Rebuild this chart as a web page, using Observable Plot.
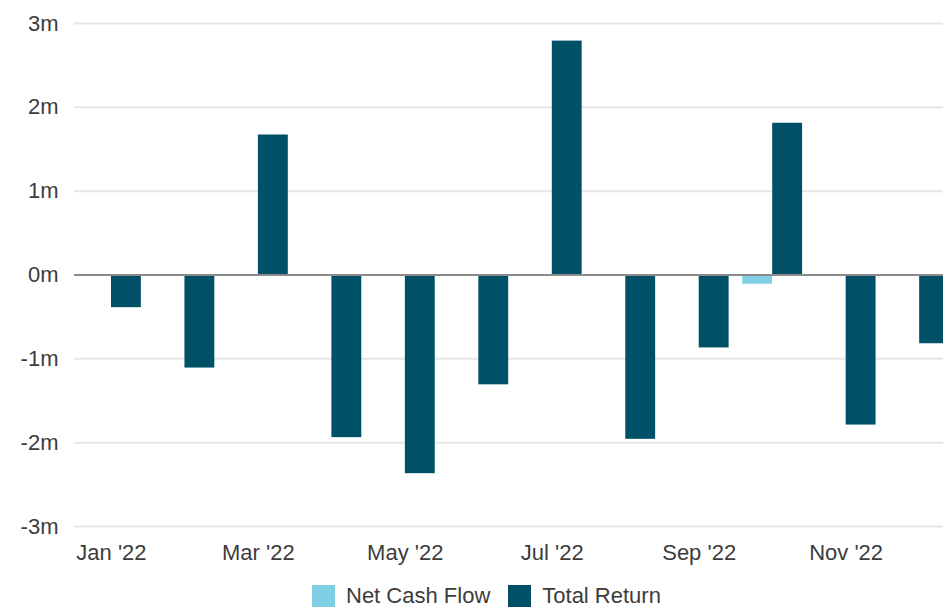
<!DOCTYPE html>
<html>
<head>
<meta charset="utf-8">
<script src="https://cdn.jsdelivr.net/npm/d3@7"></script>
<script src="https://cdn.jsdelivr.net/npm/@observablehq/plot@0.6"></script>
<style>
  html, body { margin: 0; padding: 0; background: #fff; }
  #wrap { width: 943px; height: 607px; overflow: hidden; position: relative; }
  #chart svg { display: block; }
  #legend { display: flex; align-items: center; margin-left: 312px; margin-top: 11px; height: 22px; line-height: 22px;
    font-family: "Liberation Sans", Arial, sans-serif; font-size: 22px; color: #3c3c3c; }
  .sw { width: 23px; height: 22px; display: inline-block; margin-right: 11px; }
  .item { display: flex; align-items: center; margin-right: 18px; }
</style>
</head>
<body>
<div id="wrap"><div id="chart"></div><div id="legend"></div></div>
<script>
const months = ["Jan '22","Feb '22","Mar '22","Apr '22","May '22","Jun '22","Jul '22","Aug '22","Sep '22","Oct '22","Nov '22","Dec '22"];
const netCashFlow = [0, 0, 0, 0, 0, 0, 0, 0, 0, -0.11, 0, 0];
const totalReturn = [-0.39, -1.11, 1.67, -1.94, -2.37, -1.31, 2.79, -1.96, -0.87, 1.81, -1.79, -0.82];
const seriesNames = ["Net Cash Flow", "Total Return"];
const seriesColors = ["#7fcfe5", "#005167"];
const yTicks = [-3, -2, -1, 0, 1, 2, 3];
const xTickLabels = ["Jan '22","Mar '22","May '22","Jul '22","Sep '22","Nov '22"];

const ncfData = months.map((m, i) => ({month: m, series: seriesNames[0], value: netCashFlow[i]}));
const trData = months.map((m, i) => ({month: m, series: seriesNames[1], value: totalReturn[i]}));

const chart = Plot.plot({
  width: 943,
  height: 574,
  marginLeft: 74,
  marginRight: -13,
  marginTop: 23,
  marginBottom: 48,
  style: {fontFamily: "'Liberation Sans', Arial, sans-serif", fontSize: "22px", color: "#3c3c3c", background: "#fff", overflow: "hidden"},
  x: {type: "band", domain: months, round: false, paddingInner: 0.185, paddingOuter: 0.095, ticks: xTickLabels, tickSize: 0, tickPadding: 18, label: null},
  y: {domain: [-3, 3], ticks: yTicks, tickFormat: d => `${d}m`, tickSize: 0, tickPadding: 16, label: null},
  marks: [
    Plot.gridY(yTicks, {stroke: "#e6e6e6", strokeOpacity: 1, strokeWidth: 2}),
    Plot.barY(ncfData, {x: "month", y: "value", fill: seriesColors[0], insetRight: 30}),
    Plot.barY(trData, {x: "month", y: "value", fill: seriesColors[1], insetLeft: 30}),
    Plot.ruleY([0], {stroke: "#8c8c8c", strokeWidth: 2})
  ]
});
document.getElementById("chart").appendChild(chart);

const legend = document.getElementById("legend");
seriesNames.forEach((name, i) => {
  const item = document.createElement("div");
  item.className = "item";
  const sw = document.createElement("span");
  sw.className = "sw";
  sw.style.background = seriesColors[i];
  const label = document.createElement("span");
  label.textContent = name;
  item.appendChild(sw);
  item.appendChild(label);
  legend.appendChild(item);
});
</script>
</body>
</html>
